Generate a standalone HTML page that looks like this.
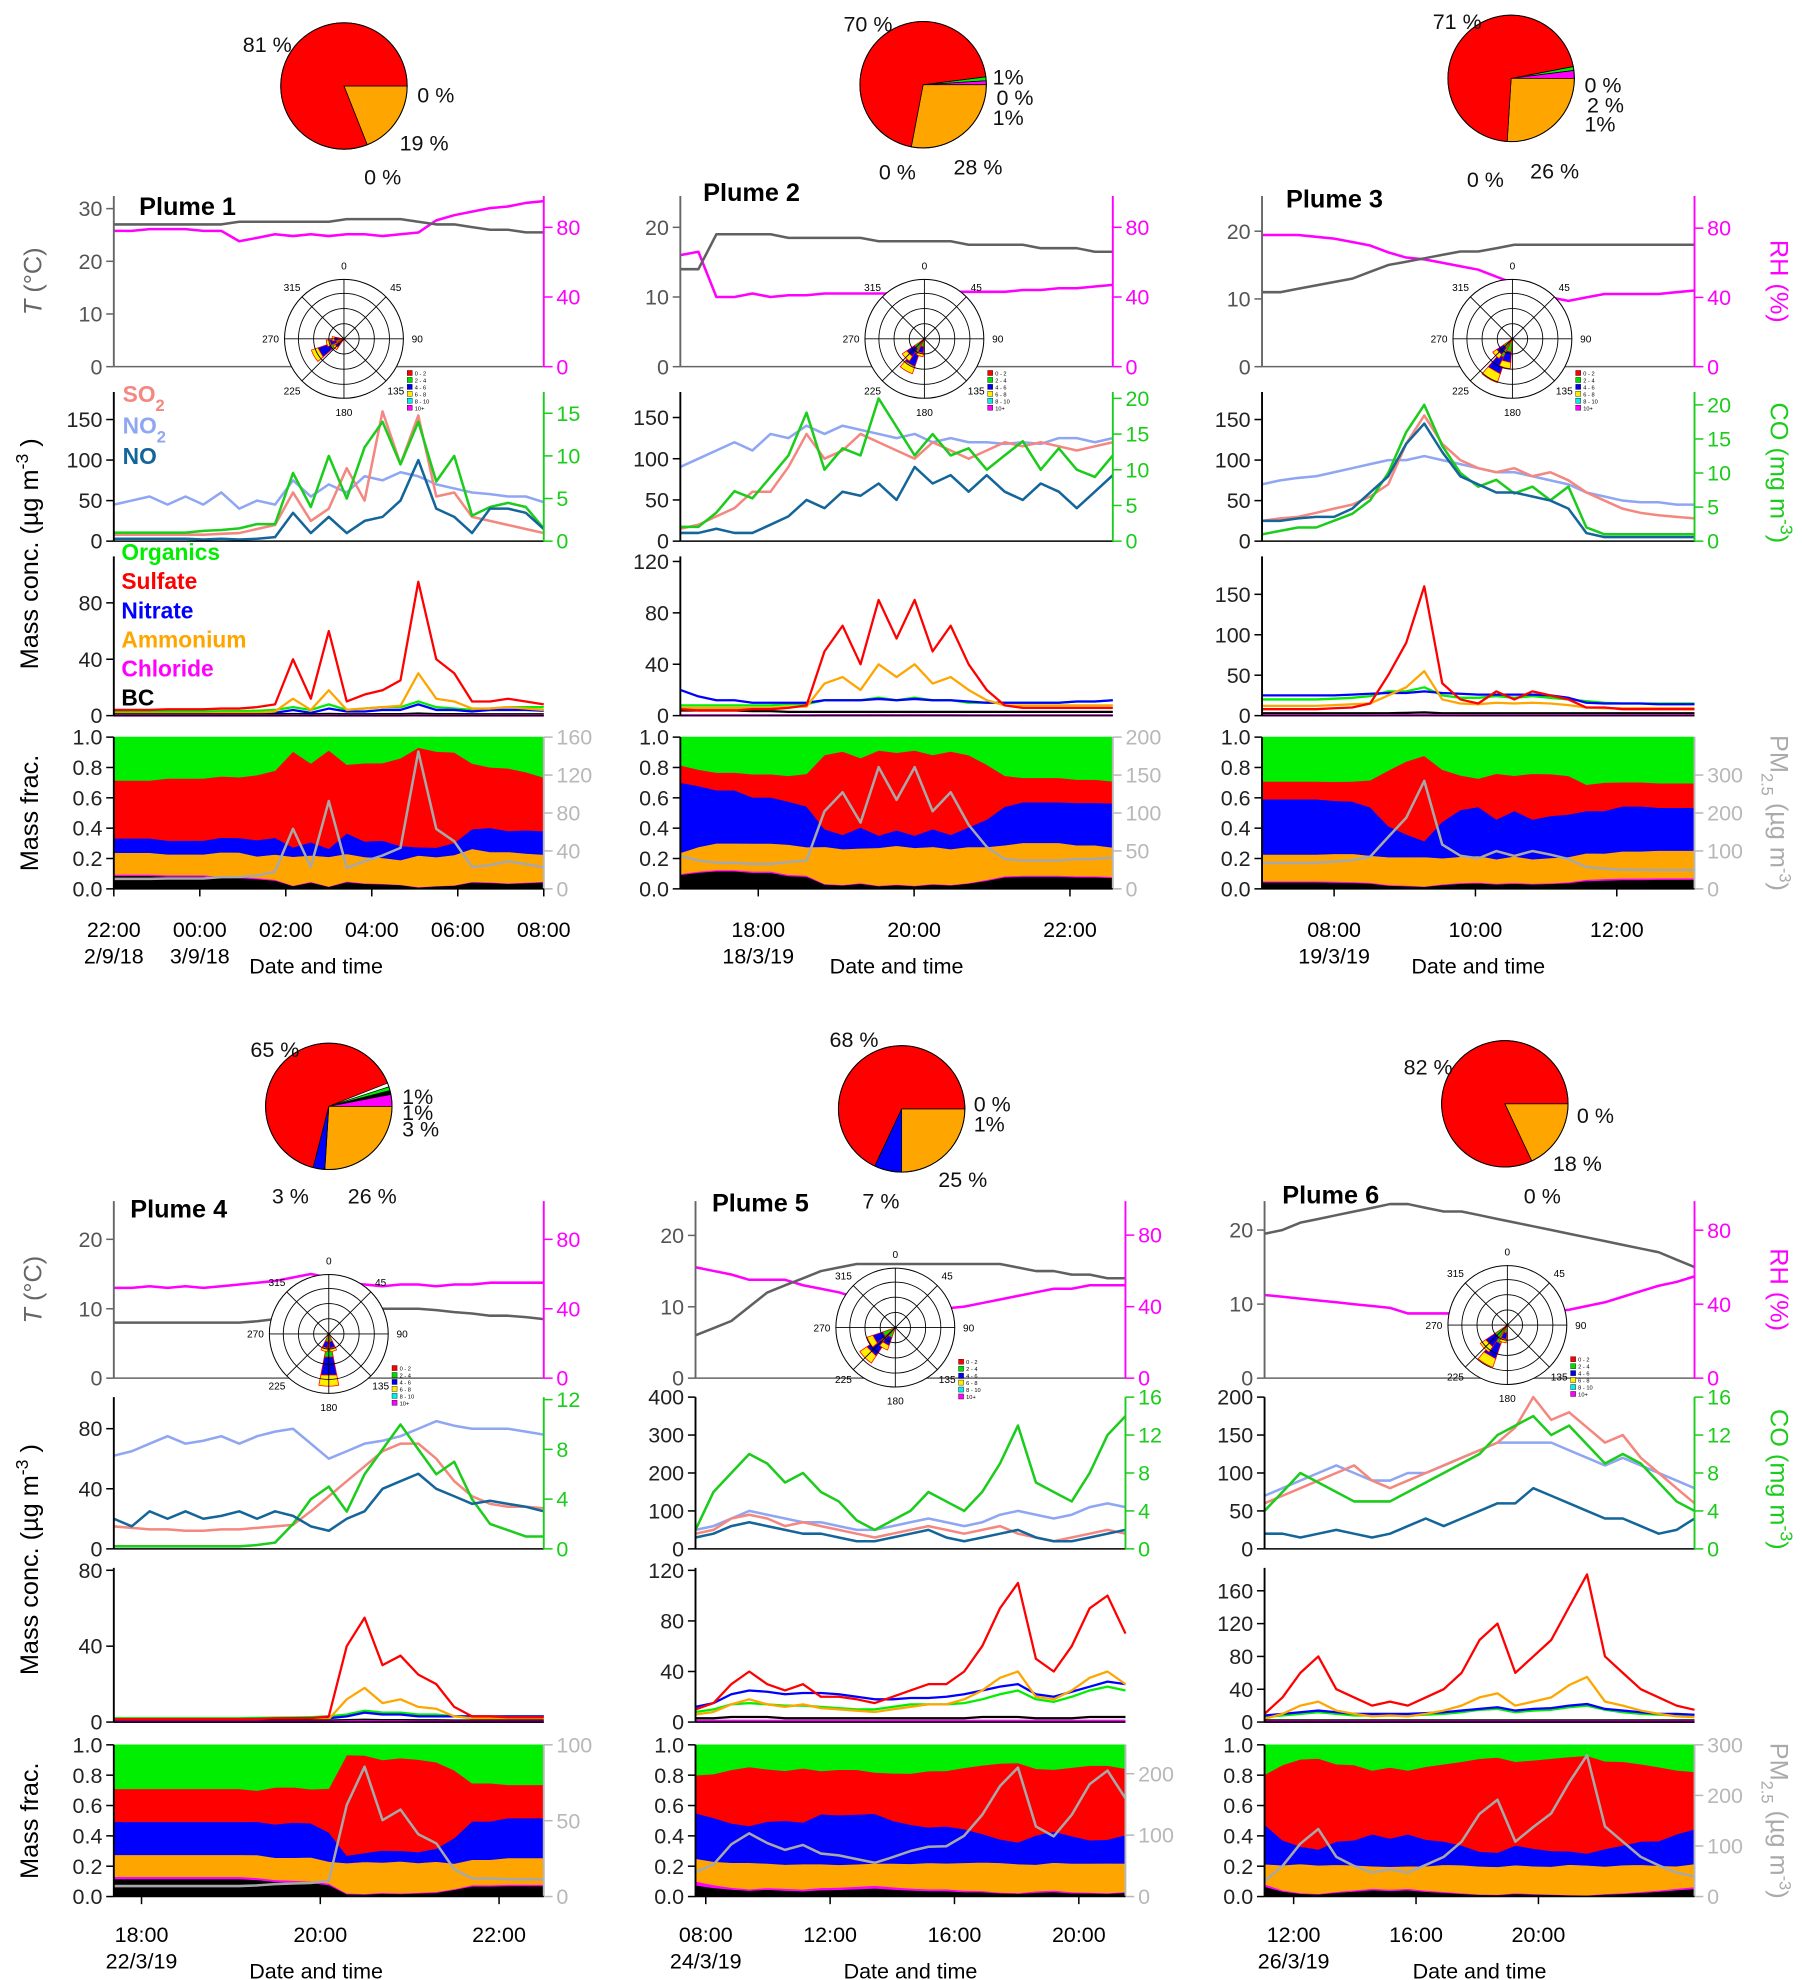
<!DOCTYPE html>
<html><head><meta charset="utf-8">
<style>
html,body{margin:0;padding:0;background:#fff;}
svg{display:block;font-family:"Liberation Sans",sans-serif;}
</style></head>
<body>
<svg id="chart" width="1802" height="1980" viewBox="0 0 1425 1566" preserveAspectRatio="none" xmlns="http://www.w3.org/2000/svg"></svg>
<script>
// ---------- DATA ----------
const temp1=[27,27,27,27,27,27,27,27.5,27.5,27.5,27.5,27.5,27.5,28,28,28,28,27.5,27,27,26.5,26,26,25.5,25.5];
const rh1=[78,78,79,79,79,78,78,72,74,76,75,76,75,76,76,75,76,77,84,87,89,91,92,94,95];
const so2_1=[8,8,8,8,8,8,9,10,15,20,60,25,40,90,50,160,95,155,55,60,30,25,20,15,10];
const no2_1=[45,50,55,45,55,45,60,40,50,45,75,55,70,60,80,75,85,80,70,65,60,58,55,55,48];
const no_1=[3,3,3,3,3,2,3,2,3,5,35,10,30,10,25,30,50,100,40,30,10,40,40,35,15];
const co1=[1,1,1,1,1,1.2,1.3,1.5,2,2,8,4,10,5,11,14,9,14,7,10,3,4,4.5,4,1.5];
const org1=[3,3,3,3,3,3,3.2,3.3,3.5,4,6,4,8,4,5,6,6,10,6,5,4,5,6,6,6];
const sulf1=[4,4,4,4.5,4.5,4.5,5,5,6,8,40,12,60,10,15,18,25,95,40,30,10,10,12,10,8];
const nitr1=[1,1,1,1,1,1,1.2,1.2,1.5,2,4,2,5,3,3,4,4,8,4,4,3,4,4,4,3.5];
const amm1=[1.5,1.5,1.5,1.5,1.5,1.5,2,2,2,3,12,4,18,4,5,6,7,30,12,10,5,5,6,5,4];
const chl1=[0.1,0.1,0.1,0.1,0.1,0.1,0.1,0.1,0.1,0.1,0.2,0.1,0.2,0.1,0.1,0.1,0.1,0.3,0.1,0.1,0.1,0.1,0.1,0.1,0.1];
const bc1=[0.9,0.9,0.9,0.9,0.9,0.9,0.9,0.9,0.9,1,1.2,1,1.3,1,1,1.1,1.1,1.5,1.1,1.1,1,1,1,1,1];

const temp2=[14,14,19,19,19,19,18.5,18.5,18.5,18.5,18.5,18,18,18,18,18,17.5,17.5,17.5,17.5,17,17,17,16.5,16.5];
const rh2=[64,66,40,40,42,40,41,41,42,42,42,42,42,42,43,43,43,43,43,44,44,45,45,46,47];
const so2_2=[15,20,30,40,60,60,90,130,100,110,130,120,110,100,120,110,100,110,120,115,120,115,110,115,120];
const no2_2=[90,100,110,120,110,130,125,140,130,140,135,130,125,130,120,125,120,120,118,120,118,125,125,120,125];
const no_2=[10,10,15,10,10,20,30,50,40,60,55,70,50,90,70,80,60,80,60,50,70,60,40,60,80];
const co2=[2,2,4,7,6,9,12,18,10,13,12,20,16,12,15,12,13,10,12,14,10,13,10,9,12];
const org2=[8,8,8,8,8,8,9,9,12,12,12,14,12,14,12,12,10,10,10,10,10,10,11,11,12];
const sulf2=[5,4,4,4,5,5,6,8,50,70,40,90,60,90,50,70,40,20,8,6,6,6,6,6,6];
const nitr2=[20,15,12,12,10,10,10,10,12,12,12,13,12,13,12,12,11,10,10,10,10,10,11,11,12];
const amm2=[6,6,6,6,6,6,7,7,25,30,20,40,30,40,25,30,20,12,8,8,8,8,8,8,8];
const chl2=[0.3,0.3,0.3,0.3,0.3,0.3,0.3,0.3,0.4,0.4,0.4,0.5,0.4,0.5,0.4,0.4,0.3,0.3,0.3,0.3,0.3,0.3,0.3,0.3,0.3];
const bc2=[4,4,4,4,3.5,3.5,3,3,3,3,3,3,3,3,3,3,3,3,3,3,3,3,3,3,3];

const temp3=[11,11,11.5,12,12.5,13,14,15,15.5,16,16.5,17,17,17.5,18,18,18,18,18,18,18,18,18,18,18];
const rh3=[76,76,76,75,74,72,70,66,63,62,60,58,56,52,48,44,40,38,40,42,42,42,42,43,44];
const so2_3=[25,28,30,35,40,45,55,70,120,155,120,100,90,85,90,80,85,75,60,50,40,35,32,30,28];
const no2_3=[70,75,78,80,85,90,95,100,100,105,100,95,90,85,85,80,75,70,60,55,50,48,48,45,45];
const no_3=[25,25,28,30,30,40,60,80,120,145,110,80,70,60,60,55,50,40,10,5,5,5,5,5,5];
const co3=[1,1.5,2,2,3,4,6,10,16,20,14,10,8,9,7,8,6,8,2,1,1,1,1,1,1];
const org3=[20,20,20,20,21,22,24,30,30,35,25,22,22,24,22,24,22,20,18,16,15,15,15,15,15];
const sulf3=[8,8,8,8,9,10,15,50,90,160,40,20,15,30,20,30,25,20,10,10,8,8,8,8,8];
const nitr3=[25,25,25,25,25,26,27,28,28,30,28,27,26,26,26,26,25,22,16,15,15,15,14,14,14];
const amm3=[12,12,12,12,13,14,15,25,35,55,20,15,14,16,15,16,15,13,10,9,9,9,9,9,9];
const chl3=[0.5,0.5,0.5,0.5,0.5,0.5,0.5,0.6,0.7,0.8,0.6,0.5,0.5,0.5,0.5,0.5,0.5,0.5,0.5,0.5,0.5,0.5,0.5,0.5,0.5];
const bc3=[3,3,3,3,3,3,3,3,3.5,4,3,3,3,3,3,3,3,3,3,3,3,3,3,3,3];

const temp4=[8,8,8,8,8,8,8,8,8.2,8.5,9,9.5,10,10,10,10,10,10,9.8,9.5,9.3,9,9,8.8,8.5];
const rh4=[52,52,53,52,53,52,53,54,55,56,58,60,58,55,54,53,54,54,53,54,54,55,55,55,55];
const so2_4=[15,14,13,13,12,12,13,13,14,15,16,25,35,45,55,65,70,70,60,45,35,30,28,28,27];
const no2_4=[62,65,70,75,70,72,75,70,75,78,80,70,60,65,70,72,75,80,85,82,80,80,80,78,76];
const no_4=[20,15,25,20,25,20,22,25,20,25,22,15,12,20,25,40,45,50,40,35,30,32,30,28,25];
const co4=[0.2,0.2,0.2,0.2,0.2,0.2,0.2,0.2,0.3,0.5,2,4,5,3,6,8,10,8,6,7,4,2,1.5,1,1];
const org4=[2,2,2,2,2,2,2,2,2.2,2.3,2.4,2.6,3,4,6,5,5,4,4,3,3,3,3,3,3];
const sulf4=[1.5,1.5,1.5,1.5,1.5,1.5,1.5,1.5,1.5,2,2,2,3,40,55,30,35,25,20,8,3,3,2.5,2.5,2.5];
const nitr4=[1.5,1.5,1.5,1.5,1.5,1.5,1.5,1.5,1.6,1.8,2,2,2,3,5,4,4,3,3,3,3,3,3,3,3];
const amm4=[1,1,1,1,1,1,1,1,1.1,1.2,1.3,1.4,1.5,12,18,10,12,8,7,3,2,2,2,2,2];
const chl4=[0.1,0.1,0.1,0.1,0.1,0.1,0.1,0.1,0.1,0.1,0.1,0.1,0.1,0.3,0.4,0.3,0.3,0.2,0.2,0.1,0.1,0.1,0.1,0.1,0.1];
const bc4=[0.8,0.8,0.8,0.8,0.8,0.8,0.8,0.8,0.8,0.8,0.8,0.8,0.8,1,1.2,1,1,0.9,0.9,0.8,0.8,0.8,0.8,0.8,0.8];

const temp5=[6,7,8,10,12,13,14,15,15.5,16,16,16,16,16,16,16,16,16,15.5,15,15,14.5,14.5,14,14];
const rh5=[62,60,58,55,55,55,52,50,48,45,42,40,38,38,39,40,42,44,46,48,50,50,52,52,52];
const so2_5=[40,50,80,90,80,60,70,60,50,40,30,40,50,60,50,40,50,60,40,30,20,30,40,50,40];
const no2_5=[50,60,80,100,90,80,70,70,60,50,50,60,70,80,70,60,70,90,100,90,80,90,110,120,110];
const no_5=[30,40,60,70,60,50,40,40,30,20,20,30,40,50,30,20,30,40,50,30,20,20,30,40,50];
const co5=[2,6,8,10,9,7,8,6,5,3,2,3,4,6,5,4,6,9,13,7,6,5,8,12,14];
const org5=[8,10,14,15,14,13,13,12,11,10,10,12,14,14,14,15,18,22,25,18,16,20,25,28,25];
const sulf5=[10,15,30,40,30,25,30,20,20,18,15,20,25,30,30,40,60,90,110,50,40,60,90,100,70];
const nitr5=[12,15,22,25,24,22,23,23,22,20,18,18,19,19,20,22,25,28,30,22,20,24,28,32,30];
const amm5=[6,8,14,18,14,12,14,11,10,9,8,10,12,14,14,18,25,35,40,20,18,25,35,40,30];
const chl5=[1,1,1,1,1,1,1,1,1,1,1,1,1,1,1,1,1,1,1,1,1,1,1,1,1];
const bc5=[3,3,4,4,4,3,3,3,3,3,3,3,3,3,3,3,4,4,4,3,3,3,4,4,4];

const temp6=[19.5,20,21,21.5,22,22.5,23,23.5,23.5,23,22.5,22.5,22,21.5,21,20.5,20,19.5,19,18.5,18,17.5,17,16,15];
const rh6=[45,44,43,42,41,40,39,38,35,35,35,35,34,34,35,36,36,37,39,41,44,47,50,52,55];
const so2_6=[60,70,80,90,100,110,90,80,90,100,110,120,130,140,160,200,170,180,160,140,150,120,100,80,60];
const no2_6=[70,80,90,100,110,100,90,90,100,100,110,120,130,140,140,140,140,130,120,110,120,110,100,90,80];
const no_6=[20,20,15,20,25,20,15,20,30,40,30,40,50,60,60,80,70,60,50,40,40,30,20,25,40];
const co6=[4,6,8,7,6,5,5,5,6,7,8,9,10,12,13,14,12,13,11,9,10,9,7,5,4];
const org6=[6,8,10,12,10,8,8,8,8,9,10,12,15,16,12,14,15,18,20,15,12,10,9,8,7];
const sulf6=[10,30,60,80,40,30,20,25,20,30,40,60,100,120,60,80,100,140,180,80,60,40,30,20,15];
const nitr6=[8,10,12,14,12,10,10,10,10,11,12,14,16,18,14,16,17,20,22,16,14,12,10,10,9];
const amm6=[4,10,20,25,14,10,7,8,7,10,14,20,30,35,20,25,30,45,55,25,20,14,10,7,6];
const chl6=[0.5,0.5,0.5,0.5,0.5,0.5,0.5,0.5,0.5,0.5,0.5,0.5,0.5,0.5,0.5,0.5,0.5,0.5,0.5,0.5,0.5,0.5,0.5,0.5,0.5];
const bc6=[2,2,2,2,2,2,2,2,2,2,2,2,2,2,2,2,2,2,2,2,2,2,2,2,2];

// pie slices: [organics, BC, chloride, ammonium, nitrate, sulfate] (%)
const pie1=[0,0,0,19,0,81];
const pie2=[1,0,1,28,0,70];
const pie3=[1,0,2,26,0,71];
const pie4=[1,1,3,26,3,65];
const pie5=[0,0,1,25,7,68];
const pie6=[0,0,0,18,0,82];

// wind rose: directions (deg) and relative frequency
const roseDir1=[240,255,225,270]; const roseLen1=[0.58,0.3,0.22,0.2];
const roseDir2=[210,225,195]; const roseLen2=[0.62,0.45,0.3];
const roseDir3=[210,195,225]; const roseLen3=[0.78,0.5,0.4];
const roseDir4=[180,165,195]; const roseLen4=[0.88,0.3,0.3];
const roseDir5=[225,240,210]; const roseLen5=[0.72,0.5,0.4];
const roseDir6=[210,225,195]; const roseLen6=[0.75,0.55,0.3];

// tick label arrays
const xTicks1=['22:00','00:00','02:00','04:00','06:00','08:00']; const xTickH1=[22,24,26,28,30,32];
const xTicks2=['18:00','20:00','22:00']; const xTickH2=[18,20,22];
const xTicks3=['08:00','10:00','12:00']; const xTickH3=[8,10,12];
const xTicks4=['18:00','20:00','22:00']; const xTickH4=[18,20,22];
const xTicks5=['08:00','12:00','16:00','20:00']; const xTickH5=[8,12,16,20];
const xTicks6=['12:00','16:00','20:00']; const xTickH6=[12,16,20];

// ---------- LAYOUT ----------
const rows=[
 {T:[155,290],G:[310,428],A:[440,566],F:[583,703],xl:741,dl:762,dt:770},
 {T:[950,1090],G:[1105,1225],A:[1240,1362],F:[1380,1500],xl:1536,dl:1557,dt:1565}
];
const plumes=[
 {n:1,row:0,x0:90,x1:430,t0:22,t1:32,d:{T:temp1,RH:rh1,so2:so2_1,no2:no2_1,no:no_1,co:co1,org:org1,so4:sulf1,no3:nitr1,nh4:amm1,chl:chl1,bc:bc1},
  Tmax:32.4,Tt:[0,10,20,30],RHmax:98,RHt:[0,40,80],Gmax:184,Gt:[0,50,100,150],COmax:17.5,COt:[0,5,10,15],Amax:113,At:[0,40,80],PMmax:160,PMt:[0,40,80,120,160],
  xt:xTicks1,xh:xTickH1,dates:[['2/9/18',22],['3/9/18',24]],pie:pie1,pc:[272,68],pl:[['81 %',192,35],['0 %',330,75],['19 %',316,113],['0 %',288,140]],
  rc:[272,268],rd:roseDir1,rl:roseLen1,title:[110,163]},
 {n:2,row:0,x0:538,x1:880,t0:17,t1:22.55,d:{T:temp2,RH:rh2,so2:so2_2,no2:no2_2,no:no_2,co:co2,org:org2,so4:sulf2,no3:nitr2,nh4:amm2,chl:chl2,bc:bc2},
  Tmax:24.5,Tt:[0,10,20],RHmax:98,RHt:[0,40,80],Gmax:181,Gt:[0,50,100,150],COmax:20.9,COt:[0,5,10,15,20],Amax:124,At:[0,40,80,120],PMmax:200,PMt:[0,50,100,150,200],
  xt:xTicks2,xh:xTickH2,dates:[['18/3/19',18]],pie:pie2,pc:[730,67],pl:[['70 %',667,19],['1%',785,61],['0 %',788,77],['1%',785,93],['28 %',754,132],['0 %',695,136]],
  rc:[731,268],rd:roseDir2,rl:roseLen2,title:[556,152]},
 {n:3,row:0,x0:998,x1:1340,t0:6.98,t1:13.1,d:{T:temp3,RH:rh3,so2:so2_3,no2:no2_3,no:no_3,co:co3,org:org3,so4:sulf3,no3:nitr3,nh4:amm3,chl:chl3,bc:bc3},
  Tmax:25.2,Tt:[0,10,20],RHmax:98.6,RHt:[0,40,80],Gmax:184,Gt:[0,50,100,150],COmax:21.9,COt:[0,5,10,15,20],Amax:197,At:[0,50,100,150],PMmax:400,PMt:[0,100,200,300],noPMaxis:false,
  xt:xTicks3,xh:xTickH3,dates:[['19/3/19',8]],pie:pie3,pc:[1195,62],pl:[['71 %',1133,17],['0 %',1253,67],['2 %',1255,83],['1%',1253,98],['26 %',1210,135],['0 %',1160,142]],
  rc:[1196,268],rd:roseDir3,rl:roseLen3,title:[1017,157],right:true},
 {n:4,row:1,x0:90,x1:430,t0:17.69,t1:22.5,d:{T:temp4,RH:rh4,so2:so2_4,no2:no2_4,no:no_4,co:co4,org:org4,so4:sulf4,no3:nitr4,nh4:amm4,chl:chl4,bc:bc4},
  Tmax:25.5,Tt:[0,10,20],RHmax:102,RHt:[0,40,80],Gmax:101,Gt:[0,40,80],COmax:12.2,COt:[0,4,8,12],Amax:81.3,At:[0,40,80],PMmax:100,PMt:[0,50,100],
  xt:xTicks4,xh:xTickH4,dates:[['22/3/19',18]],pie:pie4,pc:[260,875],pl:[['65 %',198,830],['1%',318,867],['1%',318,880],['3 %',318,893],['3 %',215,946],['26 %',275,946]],
  rc:[260,1055],rd:roseDir4,rl:roseLen4,title:[103,956]},
 {n:5,row:1,x0:550,x1:890,t0:7.67,t1:21.5,d:{T:temp5,RH:rh5,so2:so2_5,no2:no2_5,no:no_5,co:co5,org:org5,so4:sulf5,no3:nitr5,nh4:amm5,chl:chl5,bc:bc5},
  Tmax:24.8,Tt:[0,10,20],RHmax:99,RHt:[0,40,80],Gmax:400,Gt:[0,100,200,300,400],COmax:16,COt:[0,4,8,12,16],Amax:122,At:[0,40,80,120],PMmax:247,PMt:[0,100,200],
  xt:xTicks5,xh:xTickH5,dates:[['24/3/19',8]],pie:pie5,pc:[713,877],pl:[['68 %',656,822],['0 %',770,873],['1%',770,889],['25 %',742,933],['7 %',682,950]],
  rc:[708,1050],rd:roseDir5,rl:roseLen5,title:[563,951]},
 {n:6,row:1,x0:1000,x1:1340,t0:11.05,t1:25.1,d:{T:temp6,RH:rh6,so2:so2_6,no2:no2_6,no:no_6,co:co6,org:org6,so4:sulf6,no3:nitr6,nh4:amm6,chl:chl6,bc:bc6},
  Tmax:23.9,Tt:[0,10,20],RHmax:95.7,RHt:[0,40,80],Gmax:200,Gt:[0,50,100,150,200],COmax:16,COt:[0,4,8,12,16],Amax:188,At:[0,40,80,120,160],PMmax:300,PMt:[0,100,200,300],
  xt:xTicks6,xh:xTickH6,dates:[['26/3/19',12]],pie:pie6,pc:[1190,873],pl:[['82 %',1110,844],['0 %',1247,882],['18 %',1228,920],['0 %',1205,946]],
  rc:[1192,1048],rd:roseDir6,rl:roseLen6,title:[1014,945],right:true}
];
const COL={T:'#606060',RH:'#ff00ff',so2:'#f4877f',no2:'#8fa6f2',no:'#14659a',co:'#1ccc1c',org:'#00ee00',so4:'#ff0000',no3:'#0000ff',nh4:'#ffa500',chl:'#ff00ff',bc:'#000000',pm:'#a8a8a8'};
const PIECOL=['#00ee00','#000000','#ff00ff','#ffa500','#0000ff','#ff0000'];

// ---------- DRAW ----------
const NS='http://www.w3.org/2000/svg';
const svg=document.getElementById('chart');
function el(tag,attrs,parent){const e=document.createElementNS(NS,tag);for(const k in attrs)e.setAttribute(k,attrs[k]);(parent||svg).appendChild(e);return e;}
function txt(s,x,y,attrs,parent){const t=el('text',Object.assign({x:x,y:y,'font-size':16},attrs),parent);t.textContent=s;return t;}
function sc(v,max,r){return r[1]-v/max*(r[1]-r[0]);}

function leftAxis(g,x,r,max,ticks,color,lab){
  const a=el('line',{x1:x,y1:r[0],x2:x,y2:r[1],stroke:color,'stroke-width':1.5},g);
  
  
  ticks.forEach(v=>{const y=sc(v,max,r);el('line',{x1:x-6,y1:y,x2:x,y2:y,stroke:color,'stroke-width':1.2},g);
    const t=txt(String(v),x-9,y+6,{'text-anchor':'end',fill:lab||'#222','font-size':17},g);
    
    });
}
function rightAxis(g,x,r,max,ticks,color){
  const a=el('line',{x1:x,y1:r[0],x2:x,y2:r[1],stroke:color,'stroke-width':1.5},g);
  
  
  ticks.forEach(v=>{const y=sc(v,max,r);el('line',{x1:x,y1:y,x2:x+7,y2:y,stroke:color,'stroke-width':1.2},g);
    const t=txt(String(v),x+10,y+6,{fill:color,'font-size':17},g);
    
    });
}
function line(g,p,arr,max,r,color,name,w){
  const n=arr.length;
  const pts=arr.map((v,i)=>(p.x0+i/(n-1)*(p.x1-p.x0)).toFixed(1)+','+sc(Math.min(v,max),max,r).toFixed(1)).join(' ');
  const l=el('polyline',{points:pts,fill:'none',stroke:color,'stroke-width':w||2,'stroke-linejoin':'round'},g);
  
  
}

plumes.forEach(p=>{
  const R=rows[p.row];
  const g=el('g',{});
  
  
  const d=p.d;
  // ---- pie
  let ang=90-(p.pie[0]+p.pie[1]+p.pie[2])*3.6;
  const [cx,cy]=p.pc, pr=50;
  p.pie.forEach((v,i)=>{ if(v<=0) return;
    const a0=ang*Math.PI/180, a1=(ang+v*3.6)*Math.PI/180;
    const x0=cx+pr*Math.sin(a0),y0=cy-pr*Math.cos(a0),x1=cx+pr*Math.sin(a1),y1=cy-pr*Math.cos(a1);
    const s=el('path',{d:`M${cx},${cy} L${x0},${y0} A${pr},${pr} 0 ${v>50?1:0} 1 ${x1},${y1} Z`,fill:PIECOL[i],stroke:'#000','stroke-width':0.6},g);
    
    
    ang+=v*3.6; });
  el('circle',{cx:cx,cy:cy,r:pr,fill:'none',stroke:'#000','stroke-width':0.8},g);
  p.pl.forEach(l=>{const t=txt(l[0],l[1],l[2]+6,{'font-size':17,fill:'#111'},g);
    
    });

  // ---- T / RH panel
  line(g,p,d.RH,p.RHmax,R.T,COL.RH,'rh-line',2);
  line(g,p,d.T,p.Tmax,R.T,COL.T,'temperature-line',2);
  leftAxis(g,p.x0,R.T,p.Tmax,p.Tt,'#666','#555');
  el('line',{x1:p.x0,y1:R.T[1],x2:p.x1,y2:R.T[1],stroke:'#666','stroke-width':1.2},g);
  rightAxis(g,p.x1,R.T,p.RHmax,p.RHt,COL.RH);
  const tt=txt('Plume '+p.n,p.title[0],p.title[1]+7,{'font-size':20,'font-weight':'bold'},g);
  
  

  // ---- wind rose
  const [rx,ry]=p.rc, rr=47;
  const rg=el('g',{},g);
  
  
  el('circle',{cx:rx,cy:ry,r:rr,fill:'#fff',stroke:'#000','stroke-width':0.8},rg);
  p.rd.forEach((dir,i)=>{const L=p.rl[i]*rr;const a0=(dir-11)*Math.PI/180,a1=(dir+11)*Math.PI/180;
    const seg=(r0,r1,c)=>{el('path',{d:`M${rx+r0*Math.sin(a0)},${ry-r0*Math.cos(a0)} L${rx+r1*Math.sin(a0)},${ry-r1*Math.cos(a0)} A${r1},${r1} 0 0 1 ${rx+r1*Math.sin(a1)},${ry-r1*Math.cos(a1)} L${rx+r0*Math.sin(a1)},${ry-r0*Math.cos(a1)} Z`,fill:c,stroke:'#ff0000','stroke-width':0.6},rg);};
    seg(0,L*0.45,'#00dd00'); seg(L*0.45,L*0.8,'#0000ee'); seg(L*0.8,L,'#ffee00');});
  [12,24,36].forEach(r=>el('circle',{cx:rx,cy:ry,r:r,fill:'none',stroke:'#000','stroke-width':0.7},rg));
  [0,45,90,135].forEach(a=>{const s=Math.sin(a*Math.PI/180)*rr,c=Math.cos(a*Math.PI/180)*rr;
    el('line',{x1:rx-s,y1:ry+c,x2:rx+s,y2:ry-c,stroke:'#000','stroke-width':0.7},rg);});
  [0,45,90,135,180,225,270,315].forEach(a=>{const rl=rr+11;const x=rx+rl*Math.sin(a*Math.PI/180),y=ry-rl*Math.cos(a*Math.PI/180);
    txt(String(a),x,y+3,{'font-size':8,'text-anchor':'middle'},rg);});
  ['0 - 2','2 - 4','4 - 6','6 - 8','8 - 10','10+'].forEach((s,i)=>{const c=['#ff0000','#00dd00','#0000ee','#ffee00','#00eeee','#ff00ff'][i];
    el('rect',{x:rx+50,y:ry+25+i*5.5,width:4,height:4,fill:c,stroke:'#000','stroke-width':0.3},rg);
    txt(s,rx+56,ry+29+i*5.5,{'font-size':4.5},rg);});

  // ---- gas panel
  line(g,p,d.no2,p.Gmax,R.G,COL.no2,'no2-line');
  line(g,p,d.so2,p.Gmax,R.G,COL.so2,'so2-line');
  line(g,p,d.co,p.COmax,R.G,COL.co,'co-line');
  line(g,p,d.no,p.Gmax,R.G,COL.no,'no-line');
  leftAxis(g,p.x0,R.G,p.Gmax,p.Gt,'#000');
  el('line',{x1:p.x0,y1:R.G[1],x2:p.x1,y2:R.G[1],stroke:'#000','stroke-width':1.2},g);
  rightAxis(g,p.x1,R.G,p.COmax,p.COt,COL.co);

  // ---- aerosol panel
  ['org','no3','nh4','bc','chl','so4'].forEach(k=>line(g,p,d[k],p.Amax,R.A,COL[k],k+'-conc-line',1.8));
  leftAxis(g,p.x0,R.A,p.Amax,p.At,'#000');
  el('line',{x1:p.x0,y1:R.A[1],x2:p.x1,y2:R.A[1],stroke:'#000','stroke-width':1.2},g);

  // ---- mass fraction stacked area
  const keys=['bc','chl','nh4','no3','so4','org'];
  const n=d.org.length;
  const xs=i=>p.x0+i/(n-1)*(p.x1-p.x0);
  const tot=[];for(let i=0;i<n;i++){tot.push(keys.reduce((s,k)=>s+d[k][i],0));}
  let cum=new Array(n).fill(0);
  keys.forEach(k=>{
    const top=cum.map((c,i)=>c+d[k][i]/tot[i]);
    let pts=[];for(let i=0;i<n;i++)pts.push(xs(i).toFixed(1)+','+sc(top[i],1,R.F).toFixed(1));
    for(let i=n-1;i>=0;i--)pts.push(xs(i).toFixed(1)+','+sc(cum[i],1,R.F).toFixed(1));
    const a=el('polygon',{points:pts.join(' '),fill:COL[k],stroke:COL[k],'stroke-width':0.5},g);
    
    
    cum=top;});
  line(g,p,tot,p.PMmax,R.F,COL.pm,'pm25-line',2);
  leftAxis(g,p.x0,R.F,1,[0,0.2,0.4,0.6,0.8,1],'#000');
  // fix decimal labels
  rightAxis(g,p.x1,R.F,p.PMmax,p.PMt,'#b8b8b8');
  el('line',{x1:p.x0,y1:R.F[1],x2:p.x1,y2:R.F[1],stroke:'#000','stroke-width':1.2},g);

  // ---- x axis
  p.xh.forEach((h,i)=>{const x=p.x0+(h-p.t0)/(p.t1-p.t0)*(p.x1-p.x0);
    el('line',{x1:x,y1:R.F[1],x2:x,y2:R.F[1]+6,stroke:'#000','stroke-width':1.2},g);
    const t=txt(p.xt[i],x,R.xl,{'text-anchor':'middle','font-size':17},g);
    
    });
  p.dates.forEach(dd=>{const x=p.x0+(dd[1]-p.t0)/(p.t1-p.t0)*(p.x1-p.x0);
    txt(dd[0],x,R.dl,{'text-anchor':'middle','font-size':17},g);});
  const xt=txt('Date and time',(p.x0+p.x1)/2+(p.n===1||p.n===4?-10:0),R.dt,{'text-anchor':'middle','font-size':17},g);
  
  
});
// decimal formatting for mass fraction ticks
document.querySelectorAll('text').forEach(t=>{if(['0','0.2','0.4','0.6','0.8','1'].includes(t.textContent)&&t.getAttribute('text-anchor')==='end'){const y=+t.getAttribute('y');
  rows.forEach(R=>{if(y>R.F[0]-10&&y<R.F[1]+10){t.textContent=(+t.textContent).toFixed(1);}});}});

// ---- y-axis titles
function vtitle(parts,x,y,rot,color,name){
  const t=el('text',{x:0,y:0,'font-size':20,fill:color,'text-anchor':'middle',transform:`translate(${x},${y}) rotate(${rot})`});
  parts.forEach(pt=>{const s=el('tspan',pt[1]||{},t);s.textContent=pt[0];});
  
  
}
[0,1].forEach(r=>{const R=rows[r];
  vtitle([['T','' ? {} : {'font-style':'italic'}],[' (°C)']],33,(R.T[0]+R.T[1])/2,-90,'#666','temperature-axis-title');
  vtitle([['Mass conc. (µg m'],['-3',{'baseline-shift':'super','font-size':14}],[' )']],30,(R.G[0]+R.A[1])/2,-90,'#000','mass-conc-axis-title');
  vtitle([['Mass frac.']],30,(R.F[0]+R.F[1])/2,-90,'#000','mass-frac-axis-title');
  vtitle([['RH (%)']],1400,(R.T[0]+R.T[1])/2,90,'#ff00ff','rh-axis-title');
  vtitle([['CO (mg m'],['-3',{'baseline-shift':'super','font-size':14}],[')']],1400,(R.G[0]+R.G[1])/2+5,90,'#1ccc1c','co-axis-title');
  vtitle([['PM'],['2.5',{'baseline-shift':'sub','font-size':13}],[' (µg m'],['-3',{'baseline-shift':'super','font-size':13}],[')']],1400,(R.F[0]+R.F[1])/2,90,'#aaa','pm25-axis-title');
});

// ---- legends (plume 1)
const lg=el('g',{});


[['SO',COL.so2,'2',318],['NO',COL.no2,'2',343],['NO',COL.no,'',367]].forEach(a=>{
  const t=el('text',{x:97,y:a[3],'font-size':18,'font-weight':'bold',fill:a[1]},lg);
  const s1=el('tspan',{},t);s1.textContent=a[0];
  if(a[2]){const s2=el('tspan',{'baseline-shift':'sub','font-size':13},t);s2.textContent=a[2];}
  
  
});
[['Organics',COL.org],['Sulfate',COL.so4],['Nitrate',COL.no3],['Ammonium',COL.nh4],['Chloride',COL.chl],['BC',COL.bc]].forEach((a,i)=>{
  const t=txt(a[0],96,443+i*23,{'font-size':18,'font-weight':'bold',fill:a[1]},lg);
  
  
});
</script>
</body></html>
